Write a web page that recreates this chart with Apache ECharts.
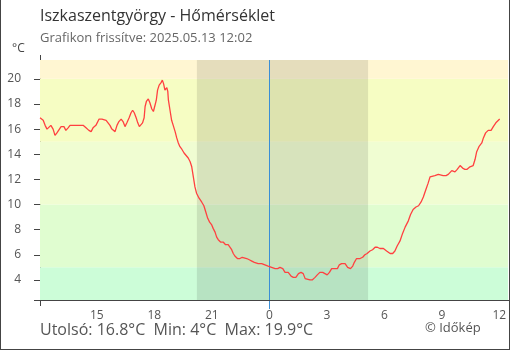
<!DOCTYPE html>
<html><head><meta charset="utf-8">
<script src="https://cdn.jsdelivr.net/npm/echarts@6/dist/echarts.min.js"></script>
<style>html,body{margin:0;padding:0;background:#fff}#c{width:510px;height:350px}</style>
</head><body><div id="c"></div>
<script>
// Readings: clock times (2025-05-12 12:02 -> 2025-05-13 12:01) and temperatures (°C)
const times = [
"12:02","12:12","12:18","12:24","12:30","12:36","12:43","12:49","12:55","13:01",
"13:08","13:17","13:23","13:30","13:36","13:42","13:55","14:07","14:17","14:26",
"14:35","14:42","14:48","14:57","15:07","15:16","15:29","15:35","15:41","15:47",
"15:57","16:03","16:09","16:16","16:22","16:28","16:34","16:41","16:47","16:52",
"16:57","17:03","17:08","17:13","17:18","17:23","17:28","17:31","17:35","17:41",
"17:46","17:52","17:57","18:02","18:06","18:10","18:15","18:21","18:25","18:29",
"18:33","18:39","18:42","18:44","18:49","18:54","18:59","19:05","19:10","19:15",
"19:20","19:26","19:33","19:39","19:46","19:52","19:57","20:02","20:07","20:12",
"20:20","20:28","20:35","20:41","20:47","20:53","20:59","21:04","21:10","21:15",
"21:20","21:28","21:36","21:43","21:51","21:57","22:02","22:07","22:12","22:20",
"22:28","22:35","22:41","22:49","22:57","23:05","23:13","23:18","23:25","23:36",
"23:46","23:56","00:07","00:18","00:26","00:33","00:42","00:49","00:59","01:08",
"01:15","01:23","01:31","01:39","01:46","01:52","01:57","02:07","02:14","02:23",
"02:30","02:38","02:47","02:54","03:01","03:08","03:15","03:22","03:33","03:39",
"03:46","03:57","04:05","04:14","04:21","04:26","04:33","04:44","04:52","04:59",
"05:06","05:15","05:23","05:31","05:38","05:46","05:57","06:07","06:18","06:26",
"06:33","06:40","06:49","06:57","07:05","07:15","07:22","07:30","07:39","07:47",
"07:55","08:02","08:10","08:17","08:23","08:26","08:38","08:49","09:04","09:13",
"09:20","09:31","09:41","09:48","09:57","10:05","10:12","10:19","10:28","10:38",
"10:44","10:49","10:56","11:05","11:10","11:17","11:25","11:34","11:41","11:49",
"11:55","12:01"];
const temps = [
16.9,16.7,16.3,16.0,16.1,16.3,16.0,15.5,15.7,15.8,
16.2,16.2,15.9,16.1,16.3,16.3,16.3,16.3,16.3,16.1,
15.9,15.8,16.1,16.3,16.8,16.8,16.7,16.6,16.3,16.0,
15.8,16.3,16.6,16.8,16.6,16.2,16.5,16.9,17.3,17.5,
17.3,16.9,16.5,16.2,16.2,16.5,16.9,17.8,18.2,18.4,
18.1,17.6,17.4,17.9,18.3,19.1,19.5,19.7,19.9,19.6,
19.1,19.3,19.0,18.3,17.5,16.7,16.3,15.8,15.3,14.9,
14.6,14.4,14.1,14.0,13.7,13.4,13.0,12.2,11.4,10.9,
10.5,10.2,9.9,9.4,8.9,8.6,8.4,8.1,7.8,7.4,
7.2,7.0,7.0,6.8,6.8,6.7,6.4,6.1,5.9,5.7,
5.7,5.8,5.9,5.7,5.6,5.5,5.4,5.5,5.3,5.3,
5.2,5.1,5.0,4.9,4.9,5.0,4.9,4.6,4.6,4.3,
4.2,4.2,4.5,4.6,4.5,4.1,4.0,4.0,4.0,4.2,
4.4,4.6,4.6,4.5,4.4,4.6,4.9,4.9,4.9,5.2,
5.3,5.3,5.0,4.9,5.1,5.4,5.7,5.7,5.8,6.0,
6.1,6.3,6.4,6.6,6.6,6.5,6.5,6.3,6.1,6.1,
6.3,6.7,7.1,7.7,8.2,8.7,9.2,9.6,9.8,9.9,
10.2,10.6,11.2,11.7,12.2,12.3,12.3,12.4,12.3,12.3,
12.4,12.7,12.6,12.8,13.1,12.9,12.8,12.8,13.0,13.1,
13.6,14.2,14.6,14.9,15.3,15.7,15.9,15.9,16.2,16.5,
16.6,16.8];

// x axis: minutes since 2025-05-12 00:00
const xMin = 722, xMax = 2187;
const xTickMinutes = [900,1080,1260,1440,1620,1800,1980,2160];
const yMin = 2.4, yMax = 21.5;
const yTicks = [4,6,8,10,12,14,16,18,20];
const bandEdges = [2.4, 5, 10, 15, 20, 21.5];
const bandColors = ['#ccfdd8','#e0fdd0','#f0fdd2','#f6fdc3','#fff6d2'];
const sunset = "20:13", sunrise = "05:09", midnight = 1440;

function toMin(t){const [h,m]=t.split(':').map(Number);return h*60+m;}
const points = [];
let dayOff = 0, prev = -1;
for (let i=0;i<times.length && i<temps.length;i++){
  let m = toMin(times[i]);
  if (m < prev) dayOff = 1440;
  prev = m;
  points.push([m + dayOff, temps[i]]);
}
const last = temps[temps.length-1], tMin = Math.min(...temps), tMax = Math.max(...temps);
const font = "'Open Sans', 'Noto Sans', sans-serif";

const chart = echarts.init(document.getElementById('c'), null, {renderer:'canvas'});
chart.setOption({
  animation:false,
  backgroundColor:'#fff',
  grid:{left:40, right:2, top:60, bottom:50},
  xAxis:{type:'value', min:xMin, max:xMax,
    axisLine:{lineStyle:{color:'#444', width:1}},
    axisTick:{show:true, inside:true, length:6, customValues:xTickMinutes, lineStyle:{color:'#444'}},
    axisLabel:{customValues:xTickMinutes, color:'#555', fontSize:12, fontFamily:font, margin:10,
      formatter:v=>String(Math.round(v/60)%24)},
    splitLine:{show:false}},
  yAxis:{type:'value', min:yMin, max:yMax,
    axisLine:{show:true, lineStyle:{color:'#444', width:1}},
    axisTick:{show:true, length:6, customValues:yTicks, lineStyle:{color:'#444'}},
    axisLabel:{customValues:yTicks, color:'#555', fontSize:12, fontFamily:font, margin:19},
    splitLine:{show:false}},
  series:[
    {type:'line', data:[], silent:true, z:1,
     markArea:{silent:true, data: bandColors.map((c,i)=>[{yAxis:bandEdges[i], itemStyle:{color:c}},{yAxis:bandEdges[i+1]}])}},
    {type:'line', data:[], silent:true, z:2,
     markArea:{silent:true, itemStyle:{color:'rgba(0,0,0,0.1)'},
       data:[[{xAxis:toMin(sunset)},{xAxis:toMin(sunrise)+1440}]]},
     markLine:{silent:true, symbol:'none', label:{show:false},
       lineStyle:{color:'#3a8fd6', width:1, type:'solid'},
       data:[{xAxis:midnight}]}},
    {type:'line', data:points, showSymbol:false, z:5,
     lineStyle:{color:'#ff4040', width:1.3}, itemStyle:{color:'#ff4040'}}
  ],
  graphic:[
    {type:'text', left:40, top:8, style:{text:'Iszkaszentgyörgy - Hőmérséklet', font:"16px "+font, fill:'#333'}},
    {type:'text', left:40, top:32, style:{text:'Grafikon frissítve: 2025.05.13 12:02', font:"13px "+font, fill:'#666'}},
    {type:'text', left:12, top:43, style:{text:'°C', font:"12px "+font, fill:'#444'}},
    {type:'text', left:40, top:322, style:{text:'Utolsó: '+last.toFixed(1)+'°C  Min: '+String(tMin)+'°C  Max: '+tMax.toFixed(1)+'°C', font:"16px "+font, fill:'#555'}},
    {type:'text', left:425, top:322, style:{text:'© Időkép', font:"13px "+font, fill:'#555'}},
    {type:'line', shape:{x1:40.5,y1:55,x2:40.5,y2:306}, style:{stroke:'#444', lineWidth:1}},
    {type:'line', shape:{x1:34,y1:300.5,x2:509,y2:300.5}, style:{stroke:'#444', lineWidth:1}},
    {type:'line', shape:{x1:269.5,y1:300,x2:269.5,y2:309}, style:{stroke:'#3a8fd6', lineWidth:1}},
    {type:'line', shape:{x1:0.5,y1:0,x2:0.5,y2:349.5}, style:{stroke:'#444', lineWidth:1}},
    {type:'line', shape:{x1:509.5,y1:0,x2:509.5,y2:349.5}, style:{stroke:'#444', lineWidth:1}},
    {type:'line', shape:{x1:0,y1:349.5,x2:510,y2:349.5}, style:{stroke:'#444', lineWidth:1}}
  ]
});
</script></body></html>
